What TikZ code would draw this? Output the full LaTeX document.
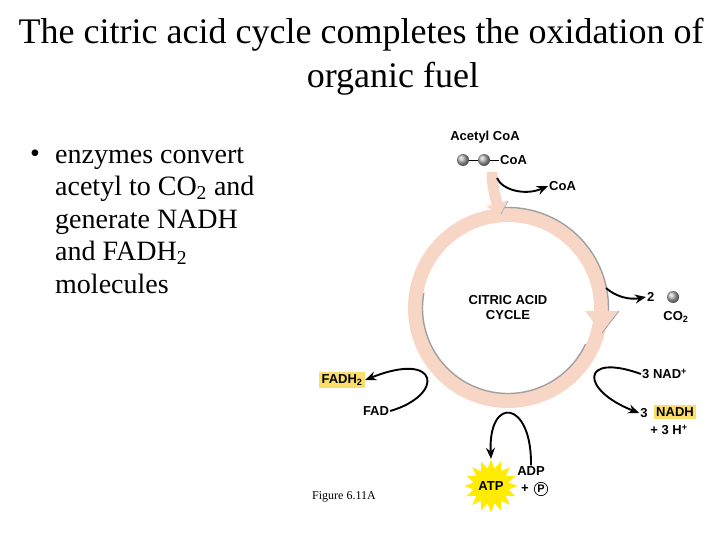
\documentclass[tikz,border=0pt]{standalone}
\usepackage{fontspec}
\setmainfont{Liberation Serif}
\newfontfamily\labelfont{Liberation Sans}
\usetikzlibrary{arrows.meta,shapes.geometric,positioning}
\definecolor{ringpink}{RGB}{248,214,198}
\definecolor{boxyellow}{RGB}{250,222,105}
\definecolor{atpyellow}{RGB}{255,236,0}

\begin{document}
\begin{tikzpicture}[x=1pt,y=-1pt,
    lbl/.style={font=\labelfont\bfseries\fontsize{13}{15}\selectfont, inner sep=1pt},
    hilite/.style={lbl, fill=boxyellow, inner sep=2.5pt},
    flow/.style={line width=1.9pt, -{Stealth[length=11pt,width=9pt]}},
    molecule/.style={circle, shading=ball, ball color=gray!60, minimum size=12pt, inner sep=0pt}]
    \useasboundingbox (0,0) rectangle (720,540);
    % title and bullet
    \node[font=\fontsize{36}{42}\selectfont, anchor=base] (title1) at (361,44) {The citric acid cycle completes the oxidation of};
    \node[font=\fontsize{36}{42}\selectfont, anchor=base] (title2) at (393,88) {organic fuel};
    \node[font=\fontsize{28}{32.5}\selectfont, anchor=base] (dot) at (35,163) {\textbullet};
    \node[font=\fontsize{28}{32.5}\selectfont, align=left, anchor=base west, inner sep=0pt] (point) at (55,293)
        {enzymes convert\\acetyl to CO\textsubscript{2} and\\generate NADH\\and FADH\textsubscript{2}\\molecules};
    % the cycle
    \coordinate (ctr) at (508,308);
    \draw[ringpink, line width=14pt] (ctr) circle[radius=93];
    \draw[gray!75, line width=1.4pt] (ctr) ++(-95:100.5) arc[start angle=-95, end angle=5, radius=100.5];
    \draw[gray!75, line width=1.4pt] (ctr) ++(-170:85.5) arc[start angle=-170, end angle=-335, radius=85.5];
    \fill[ringpink] (585,311) -- (619,311) -- (602,333) -- cycle;
    \draw[gray!75, line width=0.8pt] (619,311) -- (602,333);
    \draw[ringpink, line width=11pt, -{Triangle[length=11pt,width=22pt]}] (492,172) .. controls (492,186) and (495,196) .. (500,214);
    \draw[gray!60, line width=0.8pt] (508,201) -- (501,214);
    \node[lbl, align=center] (cycle) at (ctr) {CITRIC ACID\\CYCLE};
    % acetyl CoA in
    \node[lbl] (acetyl) at (485,137) {Acetyl CoA};
    \node[molecule] (c1) at (463,160) {};
    \node[molecule] (c2) at (484,160) {};
    \node[lbl, anchor=west] (coa) at (499,160) {CoA};
    \draw[line width=0.7pt] (c1) -- (c2);
    \draw[line width=0.7pt] (c2) -- (coa);
    \coordinate (coastart) at (497,178);
    \node[lbl, anchor=west] (coaout) at (548,186) {CoA};
    \draw[flow] (coastart) .. controls (502,190) and (525,196) .. (coaout.west);
    % CO2 out
    \coordinate (co2start) at (606,288);
    \node[lbl, anchor=west] (two) at (646,297) {2};
    \node[molecule] (co2ball) at (673,297) {};
    \node[lbl] (co2) at (676,317) {CO\textsubscript{2}};
    \draw[flow] (co2start) .. controls (616,297) and (630,300) .. (two.west);
    % FAD
    \node[hilite] (fadh) at (342,380) {FADH\textsubscript{2}};
    \node[lbl] (fad) at (376,411) {FAD};
    \draw[flow] (fad.east) .. controls (445,395) and (440,350) .. (fadh.east);
    % NAD
    \node[lbl, anchor=west] (nad) at (641,374) {3 NAD\textsuperscript{+}};
    \node[lbl] (three) at (644,413) {3};
    \node[hilite] (nadh) at (675,412) {NADH};
    \node[lbl] (hplus) at (669,430) {+ 3 H\textsuperscript{+}};
    \draw[flow] (nad.west) .. controls (580,352) and (580,390) .. (three.west);
    % ATP
    \node[lbl, star, star points=16, star point ratio=1.5, minimum size=52pt, fill=atpyellow, inner sep=0pt] (atp) at (491,486) {ATP};
    \node[lbl] (adp) at (531,471) {ADP};
    \node[lbl] (plus) at (525,489) {+};
    \node[lbl, circle, draw, line width=0.7pt, inner sep=1pt, font=\labelfont\bfseries\fontsize{11}{13}\selectfont] (phos) at (541,489) {P};
    \draw[flow] (adp.north) .. controls (532,400) and (488,395) .. (atp.north);
    \node[font=\fontsize{12}{14}\selectfont] (figlabel) at (344,497) {Figure 6.11A};
\end{tikzpicture}
\end{document}
